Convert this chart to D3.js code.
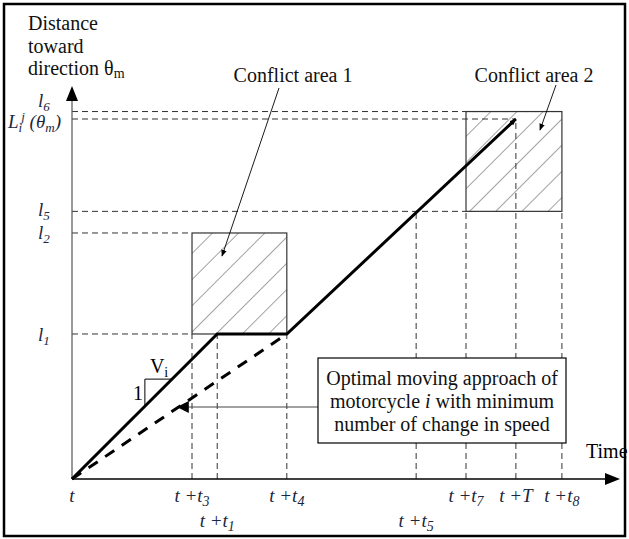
<!DOCTYPE html>
<html>
<head>
<meta charset="utf-8">
<script src="https://cdn.jsdelivr.net/npm/d3@7"></script>
<style>
  body { margin: 0; background: #fff; }
</style>
</head>
<body>
<div id="chart"></div>
<script>
// time marks (arbitrary units along the time axis)
const timeTicks = [
  { key: 't',  sub: null, val: 0,    row: 0 },
  { key: 't3', sub: '3',  val: 21.9, row: 0 },
  { key: 't1', sub: '1',  val: 26.5, row: 1 },
  { key: 't4', sub: '4',  val: 39.2, row: 0 },
  { key: 't5', sub: '5',  val: 62.8, row: 1 },
  { key: 't7', sub: '7',  val: 71.9, row: 0 },
  { key: 'T',  sub: null, val: 81.0, row: 0 },
  { key: 't8', sub: '8',  val: 89.4, row: 0 },
];
// distance levels
const distLevels = [
  { key: 'l1', val: 36.9 },
  { key: 'l2', val: 62.6 },
  { key: 'l5', val: 68.1 },
  { key: 'L',  val: 91.6 },
  { key: 'l6', val: 93.5 },
];
const T = k => timeTicks.find(d => d.key === k).val;
const D = k => distLevels.find(d => d.key === k).val;

// conflict areas
const conflicts = [
  { name: 'Conflict area 1', t0: 't3', t1: 't4', l0: 'l1', l1: 'l2' },
  { name: 'Conflict area 2', t0: 't7', t1: 't8', l0: 'l5', l1: 'l6' },
];
// trajectories
const solidPath = [[0, 0], [T('t1'), D('l1')], [T('t4'), D('l1')], [T('T'), D('L')]];
const dashedPath = [[0, 0], [T('t4'), D('l1')]];

const W = 629, H = 539;
const FONT = '"Liberation Serif", "Times New Roman", serif';
const x = d3.scaleLinear().domain([0, 100]).range([72, 620]);
const y = d3.scaleLinear().domain([0, 100]).range([479, 86]);

const svg = d3.select('#chart').append('svg').attr('width', W).attr('height', H)
  .attr('font-family', FONT);

// hatch pattern
const defs = svg.append('defs');
defs.append('pattern').attr('id', 'hatch').attr('patternUnits', 'userSpaceOnUse')
  .attr('width', 18.5).attr('height', 18.5).attr('patternTransform', 'rotate(45)')
  .append('line').attr('x1', 0).attr('y1', 0).attr('x2', 0).attr('y2', 18.5)
  .attr('stroke', '#333').attr('stroke-width', 0.9);
defs.append('marker').attr('id', 'ahead').attr('viewBox', '0 0 10 10')
  .attr('refX', 9).attr('refY', 5).attr('markerWidth', 7).attr('markerHeight', 7)
  .attr('markerUnits', 'userSpaceOnUse').attr('orient', 'auto')
  .append('path').attr('d', 'M0,1 L10,5 L0,9 Z').attr('fill', '#000');
defs.append('marker').attr('id', 'bighead').attr('viewBox', '0 0 10 10')
  .attr('refX', 9).attr('refY', 5).attr('markerWidth', 18).attr('markerHeight', 12)
  .attr('markerUnits', 'userSpaceOnUse').attr('orient', 'auto')
  .append('path').attr('d', 'M0,0 L10,5 L0,10 Z').attr('fill', '#000');

// outer frame
svg.append('rect').attr('x', 4).attr('y', 4).attr('width', 621).attr('height', 532)
  .attr('fill', 'none').attr('stroke', '#000').attr('stroke-width', 2.5);

const dash = g => g.attr('stroke', '#333').attr('stroke-width', 1).attr('stroke-dasharray', '6,4');

// horizontal guides: level -> end time
const hGuides = [['l6', 't8'], ['L', 'T'], ['l5', 't7'], ['l2', 't3'], ['l1', 't3']];
svg.append('g').selectAll('line').data(hGuides).join('line')
  .attr('x1', x(0)).attr('x2', d => x(T(d[1])))
  .attr('y1', d => y(D(d[0]))).attr('y2', d => y(D(d[0])))
  .call(dash);
// vertical guides: time -> top level
const vGuides = [['t3', 'l1'], ['t1', 'l1'], ['t4', 'l1'], ['t5', 'l5'], ['t7', 'l5'], ['T', 'L'], ['t8', 'l5']];
svg.append('g').selectAll('line').data(vGuides).join('line')
  .attr('x1', d => x(T(d[0]))).attr('x2', d => x(T(d[0])))
  .attr('y1', y(0)).attr('y2', d => y(D(d[1])))
  .call(dash);

// conflict areas
svg.append('g').selectAll('rect').data(conflicts).join('rect')
  .attr('x', d => x(T(d.t0))).attr('y', d => y(D(d.l1)))
  .attr('width', d => x(T(d.t1)) - x(T(d.t0))).attr('height', d => y(D(d.l0)) - y(D(d.l1)))
  .attr('fill', 'url(#hatch)').attr('stroke', '#333').attr('stroke-width', 1.2);

// axes
svg.append('line').attr('x1', x(0)).attr('y1', y(0)).attr('x2', x(0)).attr('y2', y(100) + 12)
  .attr('stroke', '#555').attr('stroke-width', 1.2);
svg.append('path').attr('d', `M${x(0)},${y(100)} L${x(0) - 6},${y(100) + 15} L${x(0) + 6},${y(100) + 15} Z`).attr('fill', '#000');
svg.append('line').attr('x1', x(0)).attr('y1', y(0)).attr('x2', x(100) - 12).attr('y2', y(0))
  .attr('stroke', '#000').attr('stroke-width', 1.5);
svg.append('path').attr('d', `M${x(100)},${y(0)} L${x(100) - 15},${y(0) - 6} L${x(100) - 15},${y(0) + 6} Z`).attr('fill', '#000');

// trajectories
const line = d3.line().x(d => x(d[0])).y(d => y(d[1]));
svg.append('path').attr('d', line(dashedPath)).attr('fill', 'none')
  .attr('stroke', '#000').attr('stroke-width', 3).attr('stroke-dasharray', '11,9');
svg.append('path').attr('d', line(solidPath)).attr('fill', 'none')
  .attr('stroke', '#000').attr('stroke-width', 3).attr('marker-end', 'url(#ahead)');

// slope triangle
const sx0 = x(13.3), sy0 = y(0) - (sx0 - x(0));
svg.append('path').attr('d', `M${sx0},${sy0} L${sx0},${sy0 - 27} L${sx0 + 27},${sy0 - 27}`)
  .attr('fill', 'none').attr('stroke', '#000').attr('stroke-width', 1);
svg.append('text').attr('x', sx0 - 2).attr('y', sy0 - 6).attr('text-anchor', 'end')
  .attr('font-size', 20).text('1');
const vt = svg.append('text').attr('x', sx0 + 5).attr('y', sy0 - 33).attr('font-size', 20);
vt.append('tspan').text('V');
vt.append('tspan').attr('font-size', 14).attr('dy', 4).text('i');

// y axis title
const yt = svg.append('text').attr('font-size', 20).attr('fill', '#111');
['Distance', 'toward', 'direction θ'].forEach((s, i) => {
  yt.append('tspan').attr('x', 28).attr('y', 30 + i * 22.5).text(s);
});
yt.append('tspan').attr('font-size', 14).attr('dy', 3).text('m');

// y labels
const labCol = '#1a2740';
const yLabelY = { l1: 341, l2: 239, l5: 216, l6: 107 };
distLevels.filter(d => d.key !== 'L').forEach(d => {
  const t = svg.append('text').attr('x', 38).attr('y', yLabelY[d.key])
    .attr('font-size', 19).attr('font-style', 'italic').attr('fill', labCol);
  t.append('tspan').text('l');
  t.append('tspan').attr('font-size', 13).attr('dy', 4).text(d.key.slice(1));
});
const lt = svg.append('text').attr('x', 8).attr('y', y(D('L')) + 9).attr('font-size', 19)
  .attr('font-style', 'italic').attr('fill', labCol);
lt.append('tspan').text('L');
lt.append('tspan').attr('font-size', 13).attr('dy', 4).text('i');
lt.append('tspan').attr('font-size', 13).attr('dy', -11).attr('dx', -1).text('j');
lt.append('tspan').attr('dy', 7).text(' (θ');
lt.append('tspan').attr('font-size', 13).attr('dy', 4).text('m');
lt.append('tspan').attr('dy', -4).text(')');

// x labels
timeTicks.forEach(d => {
  const t = svg.append('text').attr('x', x(d.val)).attr('y', d.row ? 527 : 502)
    .attr('text-anchor', 'middle').attr('font-size', 19).attr('font-style', 'italic').attr('fill', labCol);
  if (d.key === 't') { t.text('t'); return; }
  t.append('tspan').text('t +');
  if (d.key === 'T') { t.append('tspan').text('T'); return; }
  t.append('tspan').text('t');
  t.append('tspan').attr('font-size', 14).attr('dy', 4).text(d.sub);
});
svg.append('text').attr('x', 586).attr('y', 458).attr('font-size', 20).text('Time');

// conflict callouts
const callouts = [
  { text: conflicts[0].name, tx: 293, ty: 82, from: [279, 88], to: [222, 256] },
  { text: conflicts[1].name, tx: 534, ty: 82, from: [556, 85], to: [540, 130] },
];
callouts.forEach(c => {
  svg.append('text').attr('x', c.tx).attr('y', c.ty).attr('text-anchor', 'middle')
    .attr('font-size', 20).attr('fill', '#111').text(c.text);
  svg.append('line').attr('x1', c.from[0]).attr('y1', c.from[1]).attr('x2', c.to[0]).attr('y2', c.to[1])
    .attr('stroke', '#000').attr('stroke-width', 0.9).attr('marker-end', 'url(#ahead)');
});

// annotation box
svg.append('line').attr('x1', 318).attr('y1', 407).attr('x2', 178).attr('y2', 407)
  .attr('stroke', '#444').attr('stroke-width', 1.2).attr('marker-end', 'url(#bighead)');
svg.append('rect').attr('x', 318).attr('y', 358).attr('width', 248).attr('height', 85)
  .attr('fill', '#fff').attr('stroke', '#000').attr('stroke-width', 1.2);
const bt = svg.append('text').attr('text-anchor', 'middle').attr('font-size', 20).attr('fill', '#111');
bt.append('tspan').attr('x', 442).attr('y', 385).text('Optimal moving approach of');
const l2 = bt.append('tspan').attr('x', 442).attr('y', 408);
l2.append('tspan').text('motorcycle ');
l2.append('tspan').attr('font-style', 'italic').text('i');
l2.append('tspan').text(' with minimum');
bt.append('tspan').attr('x', 442).attr('y', 431).text('number of change in speed');
</script>
</body>
</html>
